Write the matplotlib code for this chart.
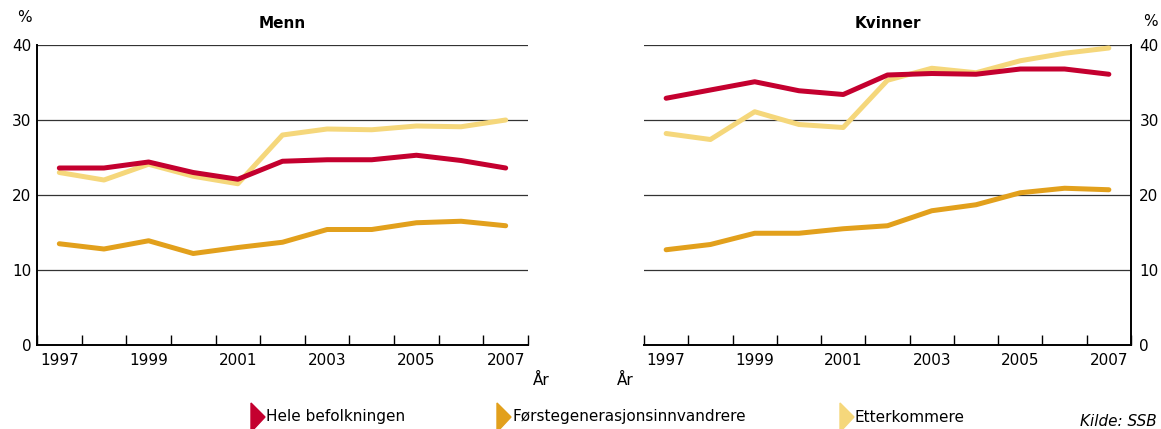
import numpy as np
import matplotlib.pyplot as plt
from matplotlib.ticker import FixedLocator

plt.rcParams['font.family'] = ['DejaVu Sans']

years = np.arange(1997, 2008)

# Menn
menn_hele = [23.6, 23.6, 24.4, 23.0, 22.1, 24.5, 24.7, 24.7, 25.3, 24.6, 23.6]
menn_forste = [13.5, 12.8, 13.9, 12.2, 13.0, 13.7, 15.4, 15.4, 16.3, 16.5, 15.9]
menn_etter = [23.0, 22.0, 24.1, 22.5, 21.5, 28.0, 28.8, 28.7, 29.2, 29.1, 30.0]

# Kvinner
kvinner_hele = [32.9, 34.0, 35.1, 33.9, 33.4, 36.0, 36.2, 36.1, 36.8, 36.8, 36.1]
kvinner_forste = [12.7, 13.4, 14.9, 14.9, 15.5, 15.9, 17.9, 18.7, 20.3, 20.9, 20.7]
kvinner_etter = [28.2, 27.4, 31.1, 29.4, 29.0, 35.3, 36.9, 36.3, 37.9, 38.9, 39.6]

series_names = ['Hele befolkningen', 'Førstegenerasjonsinnvandrere', 'Etterkommere']
colors = ['#C4002F', '#E2A01C', '#F5D77B']

W, H = 1161, 429
fig = plt.figure(figsize=(W / 100, H / 100), dpi=100)

ax1 = fig.add_axes([37 / W, 1 - 345 / H, (528 - 37) / W, 300 / H])
ax2 = fig.add_axes([644 / W, 1 - 345 / H, (1131 - 644) / W, 300 / H])

panels = [(ax1, 'Menn', [menn_etter, menn_hele, menn_forste]),
          (ax2, 'Kvinner', [kvinner_etter, kvinner_hele, kvinner_forste])]

for ax, title, data in panels:
    # draw order: etterkommere under hele befolkningen
    ax.plot(years, data[0], color=colors[2], lw=3.6, solid_capstyle='round', zorder=3)
    ax.plot(years, data[1], color=colors[0], lw=3.6, solid_capstyle='round', zorder=4)
    ax.plot(years, data[2], color=colors[1], lw=3.6, solid_capstyle='round', zorder=3)
    ax.set_xlim(1996.5, 2007.5)
    ax.set_ylim(0, 40)
    for v in [10, 20, 30, 40]:
        ax.axhline(v, color='#333333', lw=0.9, zorder=1)
    ax.set_yticks([0, 10, 20, 30, 40])
    ax.set_xticks(np.arange(1997, 2008, 2))
    ax.xaxis.set_minor_locator(FixedLocator(np.arange(1996.5, 2008, 1)))
    ax.tick_params(axis='x', which='major', length=0, labelsize=11, pad=6)
    ax.tick_params(axis='x', which='minor', length=7, width=1, direction='in', color='black')
    ax.tick_params(axis='y', length=0, labelsize=11)
    ax.spines['top'].set_visible(False)
    ax.spines['bottom'].set_linewidth(1.4)
    ax.set_title(title, fontsize=11, fontweight='bold', pad=12)

ax1.spines['right'].set_visible(False)
ax1.spines['left'].set_linewidth(1.4)
ax1.tick_params(axis='y', pad=4)

ax2.spines['left'].set_visible(False)
ax2.spines['right'].set_linewidth(1.4)
ax2.yaxis.tick_right()
ax2.tick_params(axis='y', length=0, pad=6)

fig.text(17 / W, 1 - 18 / H, '%', fontsize=11, ha='left', va='center')
fig.text(1143 / W, 1 - 22 / H, '%', fontsize=11, ha='left', va='center')
fig.text(541 / W, 1 - 380 / H, 'År', fontsize=11, ha='center', va='center')
fig.text(625 / W, 1 - 380 / H, 'År', fontsize=11, ha='center', va='center')

# legend
leg_x = [251, 497, 840]
for x, name, c in zip(leg_x, series_names, colors):
    fig.patches.append(plt.Polygon([[x / W, 1 - 403 / H], [x / W, 1 - 432 / H],
                                    [(x + 14) / W, 1 - 417 / H]],
                                   closed=True, transform=fig.transFigure,
                                   color=c, clip_on=False))
    fig.text((x + 15) / W, 1 - 417 / H, name, fontsize=11, ha='left', va='center')

fig.text(1080 / W, 1 - 421 / H, 'Kilde: SSB', fontsize=11, style='italic', ha='left', va='center')

fig.savefig('out.png', dpi=100)
